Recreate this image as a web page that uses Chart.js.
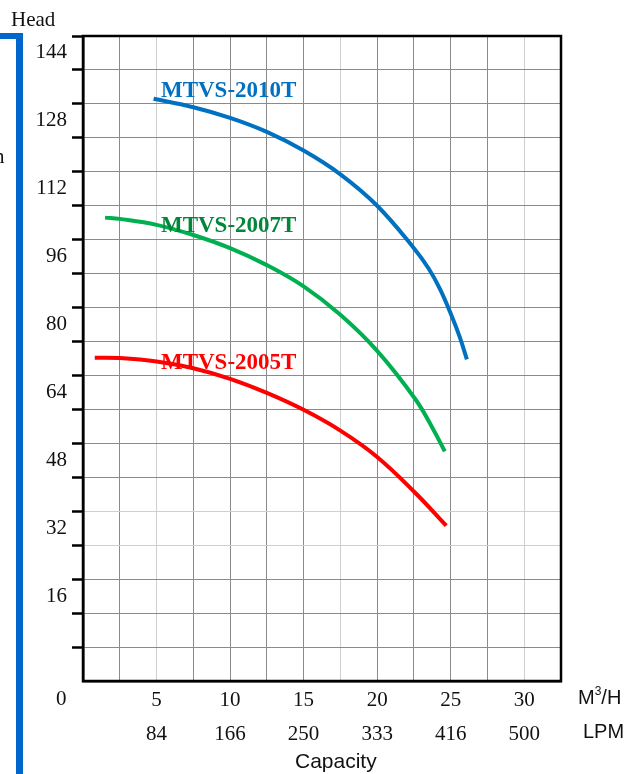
<!DOCTYPE html>
<html>
<head>
<meta charset="utf-8">
<script src="https://cdn.jsdelivr.net/npm/chart.js@4.4.1/dist/chart.umd.min.js"></script>
<style>
  body { margin: 0; background: #fff; }
  #wrap { position: relative; width: 628px; height: 774px; overflow: hidden; }
  canvas { position: absolute; left: 0; top: 0; }
  .t { position: absolute; white-space: nowrap; color: #111; }
  .serif { font-family: "Liberation Serif", "DejaVu Serif", serif; font-size: 21px; }
  .sans { font-family: "Liberation Sans", Arial, sans-serif; font-size: 20px; }
  .bar { position: absolute; background: #0066cc; }
</style>
</head>
<body>
<div id="wrap">
  <canvas id="pumpChart" width="628" height="774"></canvas>
  <div class="bar" style="left:16px; top:33px; width:7px; height:741px;"></div>
  <div class="bar" style="left:0; top:33px; width:23px; height:6px;"></div>
  <div class="t serif" style="left:-6px; top:144px;">n</div>
  <div class="t serif" style="left:11px; top:7px;">Head</div>
  <div class="t serif" style="left:56px; top:686px;">0</div>
  <div class="t sans" style="left:578px; top:686px;">M<sup style="font-size:12px; vertical-align:9px; line-height:0;">3</sup>/H</div>
  <div class="t sans" style="left:583px; top:720px;">LPM</div>
  <div class="t sans" style="left:295px; top:749px; font-size:21px;">Capacity</div>
</div>
<script>
// axis labels
const flowLabels = [5, 10, 15, 20, 25, 30];
const lpmLabels = [84, 166, 250, 333, 416, 500];
const headLabels = [16, 32, 48, 64, 80, 96, 112, 128, 144];

// MTVS-2010T
const blueFlow = [4.8, 7.5, 10, 12.5, 15, 17.5, 20, 22.5, 23.5, 24.25, 25, 25.6, 26.1];
const blueHead = [133.2, 131.2, 128.7, 125.4, 121.0, 115.4, 108.0, 98.0, 93.2, 88.5, 82.6, 77.2, 71.8];

// MTVS-2007T
const greenFlow = [1.5, 2.5, 5, 7.5, 10, 12.5, 15, 17.5, 20, 22.6, 23.8, 24.6];
const greenHead = [105.2, 104.9, 103.5, 101.1, 98.0, 94.0, 89.0, 82.3, 73.8, 62.4, 55.4, 50.1];

// MTVS-2005T
const redFlow = [0.8, 2.5, 5, 7.5, 10, 12.5, 15, 17.5, 20, 22.6, 24.7];
const redHead = [72.2, 72.1, 71.3, 69.7, 67.2, 63.9, 59.9, 55.0, 48.8, 40.3, 32.6];

const seriesNames = ['MTVS-2010T', 'MTVS-2007T', 'MTVS-2005T'];

function toPoints(xs, ys) {
    return xs.map((x, i) => ({ x: x, y: ys[i] }));
}

const gridGray = '#8a8a8a';
const gridLight = '#cfcfcf';

// series names drawn next to each curve, plus the top and right frame
const labelPlugin = {
    id: 'curveLabels',
    afterDatasetsDraw(chart) {
        const c = chart.ctx;
        const xs = chart.scales.x, ys = chart.scales.y;
        const spots = [[5.3, 135.0], [5.3, 103.2], [5.3, 71.0]];
        const colors = ['#0070c0', '#00873a', '#ff0000'];
        c.save();
        c.font = 'bold 23px "Liberation Serif", serif';
        c.textAlign = 'left';
        c.textBaseline = 'middle';
        seriesNames.forEach((name, i) => {
            c.fillStyle = colors[i];
            c.fillText(name, xs.getPixelForValue(spots[i][0]), ys.getPixelForValue(spots[i][1]));
        });
        const a = chart.chartArea;
        c.strokeStyle = '#000';
        c.lineWidth = 2.5;
        c.strokeRect(a.left, a.top, a.right - a.left, a.bottom - a.top);
        c.restore();
    }
};

const ctx = document.getElementById('pumpChart').getContext('2d');
const chart = new Chart(ctx, {
    type: 'line',
    data: {
        datasets: [{
            label: seriesNames[0],
            data: toPoints(blueFlow, blueHead),
            borderColor: '#0070c0'
        }, {
            label: seriesNames[1],
            data: toPoints(greenFlow, greenHead),
            borderColor: '#00b050'
        }, {
            label: seriesNames[2],
            data: toPoints(redFlow, redHead),
            borderColor: '#ff0000'
        }]
    },
    options: {
        responsive: false,
        animation: false,
        devicePixelRatio: 1,
        layout: { padding: { left: 0, top: 36, right: 67, bottom: 0 } },
        elements: {
            line: { borderWidth: 4, tension: 0.4, fill: false, borderCapStyle: 'butt' },
            point: { radius: 0 }
        },
        plugins: {
            legend: { display: false },
            tooltip: { enabled: false }
        },
        scales: {
            x: {
                type: 'linear',
                min: 0,
                max: 32.5,
                afterFit: function(s) { s.height = 93; },
                ticks: {
                    stepSize: 2.5,
                    padding: 2,
                    autoSkip: false,
                    maxRotation: 0,
                    color: '#111',
                    font: { family: '"Liberation Serif", serif', size: 21, lineHeight: '34px' },
                    callback: function(v) {
                        const i = flowLabels.indexOf(v);
                        return i >= 0 ? [String(flowLabels[i]), String(lpmLabels[i])] : '';
                    }
                },
                grid: {
                    drawTicks: false,
                    lineWidth: 1,
                    color: function(c) {
                        const v = c.tick ? c.tick.value : 0;
                        return (v === 5 || v === 17.5 || v === 30) ? gridLight : gridGray;
                    }
                },
                border: { color: '#000', width: 2.5 }
            },
            y: {
                type: 'linear',
                min: -4,
                max: 148,
                afterFit: function(s) { s.width = 83; },
                afterBuildTicks: function(s) {
                    const t = [];
                    for (let v = -4; v <= 148; v += 4) t.push({ value: v });
                    s.ticks = t;
                },
                ticks: {
                    padding: 5,
                    autoSkip: false,
                    color: '#111',
                    font: { family: '"Liberation Serif", serif', size: 21 },
                    callback: function(v) {
                        return headLabels.indexOf(v) >= 0 ? String(v) : '';
                    }
                },
                grid: {
                    tickLength: 11,
                    lineWidth: 1,
                    tickWidth: 2.5,
                    color: function(c) {
                        const v = c.tick ? c.tick.value : 0;
                        if ((v + 4) % 8 !== 0) return 'rgba(0,0,0,0)';
                        return (v === 28 || v === 36) ? gridLight : gridGray;
                    },
                    tickColor: function(c) {
                        const v = c.tick ? c.tick.value : 0;
                        return ((v + 4) % 8 === 0 && v > -4) ? '#000' : 'rgba(0,0,0,0)';
                    }
                },
                border: { color: '#000', width: 2.5 }
            }
        }
    },
    plugins: [labelPlugin]
});
</script>
</body>
</html>
